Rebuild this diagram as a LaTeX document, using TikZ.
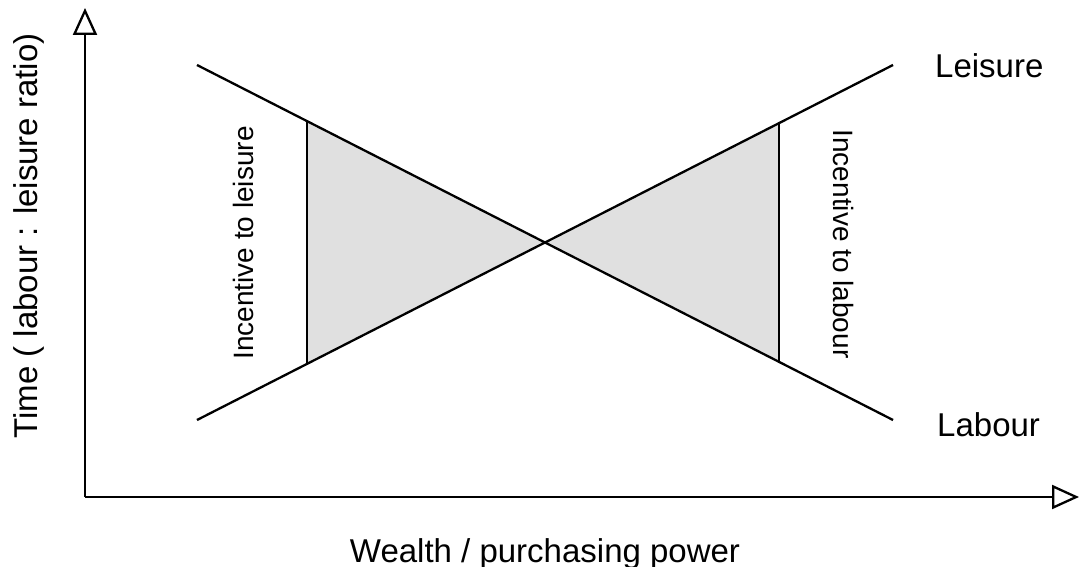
\documentclass[tikz,border=0pt]{standalone}
\usepackage{fontspec}
\setmainfont{Liberation Sans}
\usetikzlibrary{arrows.meta}
\definecolor{shade}{RGB}{224,224,224}
\begin{document}
\begin{tikzpicture}[x=1pt,y=-1pt,
  ln/.style={line width=2.3pt,black},
  axis/.style={line width=2.3pt,-{Triangle[open,length=27pt,width=24pt,line width=2.3pt]}},
  big/.style={inner sep=0pt,font=\fontsize{33}{36}\selectfont},
  small/.style={inner sep=0pt,font=\fontsize{28}{32}\selectfont},
  area/.style={fill=shade}]
\useasboundingbox (0,0) rectangle (1081,567);
% key points
\coordinate (O) at (85,497);
\coordinate (ytip) at (85,8);
\coordinate (xtip) at (1079,497);
\coordinate (labA) at (197,65);
\coordinate (labB) at (893,420);
\coordinate (leiA) at (197,420);
\coordinate (leiB) at (893,65);
\coordinate (X) at (545,242.5);
\coordinate (L1) at (307,121);
\coordinate (L2) at (307,364);
\coordinate (R1) at (779,123);
\coordinate (R2) at (779,362);
% shaded areas
\fill[area] (L1) -- (X) -- (L2) -- cycle;
\fill[area] (R1) -- (X) -- (R2) -- cycle;
% lines
\draw[ln] (labA) -- (labB);
\draw[ln] (leiA) -- (leiB);
\draw[ln] (L1) -- (L2);
\draw[ln] (R1) -- (R2);
% axes
\draw[axis] (O) -- (ytip);
\draw[axis] (O) -- (xtip);
% labels
\node[big,anchor=base west] (tLeisure) at (935,78) {Leisure};
\node[big,anchor=base west] (tLabour) at (937,436) {Labour};
\node[big,anchor=base] (tX) at (545,562) {Wealth / purchasing power};
\node[big,anchor=base,rotate=90] (tY) at (37,236) {Time ( labour : leisure ratio)};
\node[small,anchor=base,rotate=90] (tIL) at (253,243) {Incentive to leisure};
\node[small,anchor=base,rotate=-90] (tIR) at (833,244) {Incentive to labour};
\end{tikzpicture}
\end{document}
